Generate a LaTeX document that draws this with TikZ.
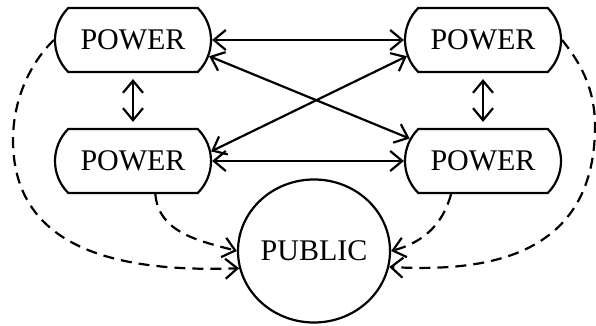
\documentclass[tikz,border=0pt]{standalone}
\usepackage{fontspec}
\setmainfont{Liberation Serif}
\usetikzlibrary{shapes.misc,shapes.geometric,arrows.meta}
\begin{document}
\begin{tikzpicture}[x=1pt,y=1pt,line width=2.2pt,
    >={Straight Barb[length=12pt,width=20pt]},
    powerbox/.style={draw,rounded rectangle,rounded rectangle arc length=90,
      minimum width=156pt,minimum height=64pt,inner sep=0pt,
      font=\fontsize{30}{36}\selectfont},
    publicnode/.style={draw,ellipse,minimum width=152pt,minimum height=143pt,
      inner sep=0pt,font=\fontsize{30}{36}\selectfont},
    both/.style={<->},
    reach/.style={->,dash pattern=on 11pt off 7pt}]
  \useasboundingbox (0,0) rectangle (596,326);
  \node[powerbox] (tl) at (133,286) {POWER};
  \node[powerbox] (tr) at (483,286) {POWER};
  \node[powerbox] (bl) at (133,165) {POWER};
  \node[powerbox] (br) at (483,165) {POWER};
  \node[publicnode] (pub) at (314,75) {PUBLIC};
  % links between the powers
  \draw[both] (tl.east) -- (tr.west);
  \draw[both] (bl.east) -- (br.west);
  \draw[both] (tl.-12) -- (br.163);
  \draw[both] (bl.7) -- (tr.192);
  \draw[both,shorten <=6pt,shorten >=6pt] (tl.south) -- (bl.north);
  \draw[both,shorten <=6pt,shorten >=6pt] (tr.south) -- (br.north);
  % influence on the public
  \draw[reach] (tl.west) .. controls (30,263) and (13,226) .. (13,186)
    .. controls (13,71) and (130,54) .. (pub.193);
  \draw[reach] (bl.-56) to[out=-85,in=165] (pub.west);
  \draw[reach] (br.226) to[out=-105,in=15] (pub.east);
  \draw[reach] (tr.east) .. controls (578,266) and (595,240) .. (595,200)
    .. controls (595,60) and (470,55) .. (pub.-12);
\end{tikzpicture}
\end{document}
